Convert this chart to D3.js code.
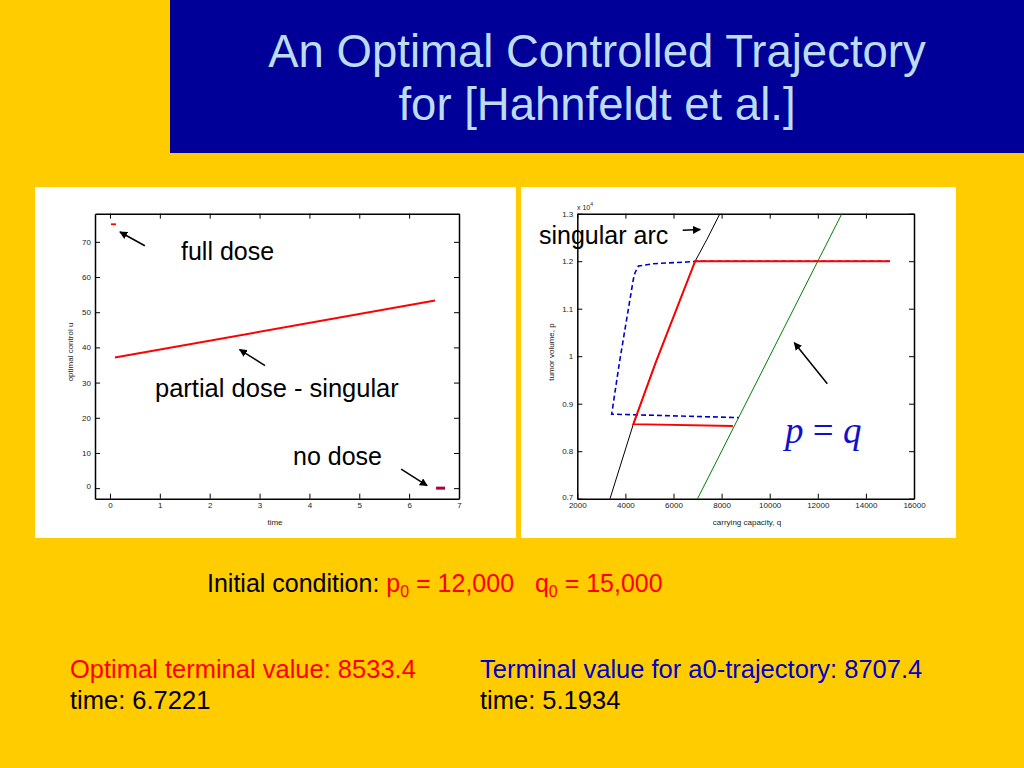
<!DOCTYPE html>
<html>
<head>
<meta charset="utf-8">
<script src="https://cdn.jsdelivr.net/npm/d3@7"></script>
<style>
  body { margin: 0; background: #ffcc00; }
  svg { display: block; }
  text { white-space: pre; }
</style>
</head>
<body>
<svg id="slide" width="1024" height="768"></svg>
<script>
// ---- data ----
// left plot: optimal control u vs time
const fullDoseT = [0.02, 0.12];
const fullDoseU = [75, 75];
const partialT = [0.1, 6.52];
const partialU = [37.1, 53.3];
const noDoseT = [6.54, 6.72];
const noDoseU = [0, 0];
const timeTicks = [0, 1, 2, 3, 4, 5, 6, 7];
const controlTicks = [0, 10, 20, 30, 40, 50, 60, 70];

// right plot: tumor volume p vs carrying capacity q
const arcQ = [3360, 4330, 5270, 6900, 7380, 7930];
const arcP = [7000, 8570, 9880, 12000, 12450, 13000];
const diagQ = [7000, 13000];
const diagP = [7000, 13000];
const optQ = [15000, 6900, 5270, 4330, 8470];
const optP = [12000, 12000, 9880, 8570, 8533];
const a0Q = [15000, 6980, 6550, 5160, 4540, 4400, 4330, 3755, 3430, 8707];
const a0P = [12000, 12000, 11983, 11947, 11898, 11757, 11618, 9878, 8780, 8707];
const qTicks = [2000, 4000, 6000, 8000, 10000, 12000, 14000, 16000];
const pTicks = [7000, 8000, 9000, 10000, 11000, 12000, 13000];

const svg = d3.select("#slide");
const sans = "Liberation Sans, Arial, Helvetica, sans-serif";

// title block
svg.append("rect").attr("x", 170).attr("y", 0).attr("width", 854).attr("height", 153).attr("fill", "#000099");
const title = svg.append("text")
    .attr("text-anchor", "middle")
    .attr("font-family", sans)
    .attr("font-size", 45.5)
    .attr("fill", "#bcdcf4");
title.append("tspan").attr("x", 597).attr("y", 67).text("An Optimal Controlled Trajectory");
title.append("tspan").attr("x", 597).attr("y", 120).text("for [Hahnfeldt et al.]");

// white panels
svg.append("rect").attr("x", 35).attr("y", 187).attr("width", 481).attr("height", 351).attr("fill", "#fff");
svg.append("rect").attr("x", 521).attr("y", 187).attr("width", 435).attr("height", 351).attr("fill", "#fff");

svg.append("defs").append("marker")
    .attr("id", "head")
    .attr("viewBox", "0 0 10 10")
    .attr("refX", 9).attr("refY", 5)
    .attr("markerWidth", 8).attr("markerHeight", 8)
    .attr("markerUnits", "userSpaceOnUse")
    .attr("orient", "auto")
    .append("path").attr("d", "M0,0 L10,5 L0,10 Z").attr("fill", "#000");

function frame(g, x, y, xt, yt, xfmt, yfmt) {
    const [x0, x1] = x.range();
    const [y0, y1] = y.range();
    const style = sel => {
        sel.select(".domain").attr("stroke", "#000").attr("stroke-width", 1.5);
        sel.selectAll(".tick line").attr("stroke", "#000");
        sel.selectAll(".tick text").attr("font-family", sans).attr("font-size", 8).attr("fill", "#222");
    };
    g.append("g").attr("transform", `translate(0,${y0})`)
        .call(d3.axisBottom(x).tickValues(xt).tickSize(-5).tickSizeOuter(0).tickPadding(4).tickFormat(xfmt))
        .call(style);
    g.append("g").attr("transform", `translate(0,${y1})`)
        .call(d3.axisTop(x).tickValues(xt).tickSize(-5).tickSizeOuter(0).tickFormat(""))
        .call(style);
    const yAxis = g.append("g").attr("transform", `translate(${x0},0)`)
        .call(d3.axisLeft(y).tickValues(yt).tickSize(-5).tickSizeOuter(0).tickPadding(4).tickFormat(yfmt))
        .call(style);
    // lift the lowest y label a little so it clears the first x label
    yAxis.selectAll(".tick text").filter(d => d === yt[0]).attr("dy", "0.1em");
    g.append("g").attr("transform", `translate(${x1},0)`)
        .call(d3.axisRight(y).tickValues(yt).tickSize(-5).tickSizeOuter(0).tickFormat(""))
        .call(style);
}

function series(g, x, y, xs, ys, color, width, dash) {
    const pts = xs.map((d, i) => [d, ys[i]]);
    g.append("path")
        .datum(pts)
        .attr("fill", "none")
        .attr("stroke", color)
        .attr("stroke-width", width)
        .attr("stroke-dasharray", dash || null)
        .attr("d", d3.line().x(d => x(d[0])).y(d => y(d[1])));
}

function arrow(g, x, y, from, to) {
    g.append("line")
        .attr("x1", x(from[0])).attr("y1", y(from[1]))
        .attr("x2", x(to[0])).attr("y2", y(to[1]))
        .attr("stroke", "#000").attr("stroke-width", 1.5)
        .attr("marker-end", "url(#head)");
}

function label(g, px, py, txt, size, color) {
    return g.append("text").attr("x", px).attr("y", py)
        .attr("font-family", sans).attr("font-size", size).attr("fill", color || "#000").text(txt);
}

// ---- left plot ----
const xL = d3.scaleLinear().domain([-0.3, 7]).range([95, 459]);
const yL = d3.scaleLinear().domain([-3, 78]).range([498.7, 213.7]);
const left = svg.append("g");
frame(left, xL, yL, timeTicks, controlTicks, d3.format("d"), d3.format("d"));

series(left, xL, yL, fullDoseT, fullDoseU, "#ff0000", 1.8);
series(left, xL, yL, partialT, partialU, "#ff0000", 2);
series(left, xL, yL, noDoseT, noDoseU, "#b0003a", 3);

left.append("text").attr("x", 275).attr("y", 525).attr("text-anchor", "middle")
    .attr("font-family", sans).attr("font-size", 8).attr("fill", "#222").text("time");
left.append("text").attr("transform", "translate(73,352) rotate(-90)").attr("text-anchor", "middle")
    .attr("font-family", sans).attr("font-size", 8).attr("fill", "#222").text("optimal control u");

label(left, 181, 260, "full dose", 25);
label(left, 155, 397, "partial dose - singular", 25.5);
label(left, 293, 465, "no dose", 25);
arrow(left, xL, yL, [0.7, 68.9], [0.2, 72.8]);
arrow(left, xL, yL, [3.11, 34.8], [2.6, 39.4]);
arrow(left, xL, yL, [5.84, 5.4], [6.36, 0.7]);

// ---- right plot ----
const xR = d3.scaleLinear().domain([2000, 16000]).range([577.3, 914]);
const yR = d3.scaleLinear().domain([7000, 13000]).range([498.7, 213.7]);
const right = svg.append("g");
frame(right, xR, yR, qTicks, pTicks, d3.format("d"), d => String(d / 10000));

series(right, xR, yR, arcQ, arcP, "#000", 1);
series(right, xR, yR, diagQ, diagP, "#008000", 1);
series(right, xR, yR, a0Q, a0P, "#0000cc", 1.6, "5,3");
series(right, xR, yR, optQ, optP, "#ff0000", 2);

const exp = right.append("text").attr("x", 577).attr("y", 210)
    .attr("font-family", sans).attr("font-size", 7).attr("fill", "#222");
exp.append("tspan").text("x 10");
exp.append("tspan").attr("dy", -4).attr("font-size", 5).text("4");

right.append("text").attr("x", 747).attr("y", 525).attr("text-anchor", "middle")
    .attr("font-family", sans).attr("font-size", 8).attr("fill", "#222").text("carrying capacity, q");
right.append("text").attr("transform", "translate(554,352) rotate(-90)").attr("text-anchor", "middle")
    .attr("font-family", sans).attr("font-size", 8).attr("fill", "#222").text("tumor volume, p");

label(right, 539, 244, "singular arc", 25);
arrow(right, xR, yR, [6383, 12650], [7110, 12665]);
arrow(right, xR, yR, [12395, 9421], [11023, 10284]);

const pq = right.append("text").attr("x", 785).attr("y", 443)
    .attr("font-family", "Liberation Serif, DejaVu Serif, serif").attr("font-size", 37).attr("fill", "#1010cc");
pq.append("tspan").attr("font-style", "italic").text("p");
pq.append("tspan").text(" = ");
pq.append("tspan").attr("font-style", "italic").text("q");

// ---- bottom text ----
const init = svg.append("text").attr("x", 207).attr("y", 592)
    .attr("font-family", sans).attr("font-size", 25).attr("fill", "#000");
init.append("tspan").text("Initial condition: ");
init.append("tspan").attr("fill", "#ff0000").text("p");
init.append("tspan").attr("fill", "#ff0000").attr("font-size", 16).attr("dy", 5).text("0");
init.append("tspan").attr("fill", "#ff0000").attr("dy", -5).text(" = 12,000   q");
init.append("tspan").attr("fill", "#ff0000").attr("font-size", 16).attr("dy", 5).text("0");
init.append("tspan").attr("fill", "#ff0000").attr("dy", -5).text(" = 15,000");

label(svg, 70, 678, "Optimal terminal value: 8533.4", 25.5, "#ff0000");
label(svg, 70, 709, "time: 6.7221", 25.5, "#000");
label(svg, 480, 678, "Terminal value for a0-trajectory: 8707.4", 25.5, "#0000cc");
label(svg, 480, 709, "time: 5.1934", 25.5, "#000");
</script>
</body>
</html>
